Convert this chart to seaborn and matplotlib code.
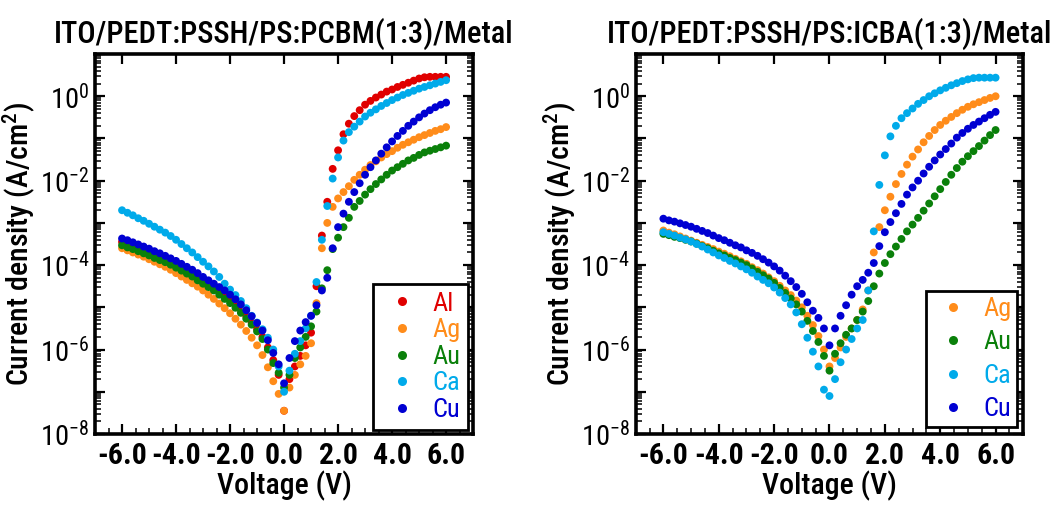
import numpy as np
import pandas as pd
import matplotlib
matplotlib.use("Agg")
import matplotlib.pyplot as plt
import seaborn as sns
from matplotlib import font_manager as fm
from matplotlib.ticker import LogLocator, FuncFormatter, MultipleLocator, NullFormatter
from matplotlib.lines import Line2D

# ---------------- data (log10 of current density, A/cm^2) ----------------
voltage = np.linspace(-6.0, 6.0, 61)  # sweep, 0.2 V steps

pcbm_al = [-3.45, -3.50, -3.54, -3.59, -3.64, -3.69, -3.74, -3.79, -3.84, -3.90,
           -3.96, -4.03, -4.10, -4.17, -4.25, -4.34, -4.43, -4.52, -4.61, -4.71,
           -4.82, -4.93, -5.06, -5.21, -5.36, -5.52, -5.70, -5.95, -6.25, -6.60,
           -7.45,
           -6.70, -6.40, -6.15, -5.90, -5.60, -4.50, -3.30, -2.50, -1.72, -1.28,
           -0.90, -0.65, -0.47, -0.33, -0.20, -0.11, -0.03, 0.04, 0.11, 0.16,
           0.22, 0.27, 0.32, 0.37, 0.42, 0.45, 0.46, 0.46, 0.46, 0.46]
pcbm_ag = [-3.60, -3.65, -3.70, -3.75, -3.80, -3.86, -3.92, -3.98, -4.04, -4.11,
           -4.19, -4.27, -4.35, -4.43, -4.51, -4.60, -4.70, -4.80, -4.91, -5.02,
           -5.14, -5.27, -5.41, -5.56, -5.72, -5.90, -6.13, -6.42, -6.75, -7.05,
           -7.45,
           -6.90, -6.60, -6.35, -6.15, -5.85, -4.90, -3.60, -3.00, -2.62, -2.42,
           -2.27, -2.13, -1.98, -1.86, -1.74, -1.63, -1.54, -1.45, -1.37, -1.30,
           -1.22, -1.15, -1.09, -1.03, -0.97, -0.92, -0.87, -0.82, -0.78, -0.73]
pcbm_au = [-3.53, -3.58, -3.62, -3.67, -3.72, -3.77, -3.83, -3.88, -3.93, -3.99,
           -4.06, -4.13, -4.20, -4.27, -4.36, -4.44, -4.52, -4.60, -4.70, -4.80,
           -4.90, -5.01, -5.13, -5.27, -5.41, -5.57, -5.75, -6.00, -6.32, -6.55,
           -6.90,
           -6.60, -6.20, -5.95, -5.70, -5.45, -5.10, -4.55, -4.12, -3.62, -3.35,
           -3.10, -2.88, -2.62, -2.48, -2.33, -2.20, -2.08, -1.97, -1.86, -1.76,
           -1.68, -1.60, -1.52, -1.46, -1.39, -1.33, -1.29, -1.25, -1.21, -1.17]
pcbm_ca = [-2.70, -2.76, -2.82, -2.89, -2.95, -3.02, -3.09, -3.16, -3.23, -3.31,
           -3.40, -3.50, -3.60, -3.70, -3.81, -3.92, -4.03, -4.15, -4.28, -4.44,
           -4.58, -4.71, -4.85, -5.02, -5.20, -5.36, -5.52, -5.72, -6.00, -6.40,
           -7.00,
           -6.50, -6.10, -5.80, -5.50, -5.20, -4.40, -3.40, -2.60, -1.95, -1.45,
           -1.05, -0.85, -0.72, -0.60, -0.48, -0.39, -0.31, -0.23, -0.16, -0.09,
           -0.03, 0.03, 0.08, 0.13, 0.18, 0.22, 0.26, 0.30, 0.34, 0.38]
pcbm_cu = [-3.37, -3.41, -3.46, -3.51, -3.56, -3.61, -3.67, -3.72, -3.78, -3.84,
           -3.90, -3.97, -4.04, -4.11, -4.19, -4.28, -4.36, -4.44, -4.52, -4.60,
           -4.70, -4.81, -4.93, -5.07, -5.21, -5.37, -5.55, -5.78, -6.08, -6.35,
           -6.80,
           -6.20, -5.80, -5.55, -5.35, -5.20, -4.95, -4.60, -4.30, -3.60, -3.10,
           -2.78, -2.50, -2.27, -2.06, -1.86, -1.68, -1.52, -1.36, -1.21, -1.07,
           -0.94, -0.82, -0.70, -0.60, -0.50, -0.41, -0.33, -0.26, -0.20, -0.15]

icba_ag = [-3.18, -3.23, -3.27, -3.32, -3.37, -3.42, -3.47, -3.52, -3.57, -3.62,
           -3.68, -3.73, -3.79, -3.85, -3.91, -3.97, -4.05, -4.12, -4.20, -4.29,
           -4.38, -4.49, -4.60, -4.71, -4.84, -5.00, -5.20, -5.42, -5.68, -6.00,
           -6.40,
           -6.20, -5.95, -5.70, -5.50, -5.30, -5.05, -4.60, -3.70, -3.10, -2.70,
           -2.38, -2.08, -1.84, -1.62, -1.43, -1.26, -1.09, -0.94, -0.80, -0.68,
           -0.58, -0.49, -0.40, -0.32, -0.25, -0.19, -0.14, -0.09, -0.04, 0.00]
icba_au = [-3.26, -3.29, -3.33, -3.36, -3.40, -3.44, -3.49, -3.55, -3.60, -3.66,
           -3.72, -3.77, -3.83, -3.88, -3.94, -4.00, -4.08, -4.16, -4.24, -4.32,
           -4.42, -4.54, -4.66, -4.79, -4.93, -5.10, -5.32, -5.56, -5.82, -6.15,
           -6.50,
           -6.10, -5.85, -5.65, -5.50, -5.30, -5.10, -4.85, -4.50, -4.20, -3.95,
           -3.74, -3.56, -3.38, -3.20, -3.04, -2.88, -2.71, -2.54, -2.37, -2.20,
           -2.03, -1.86, -1.70, -1.55, -1.42, -1.30, -1.18, -1.05, -0.92, -0.80]
icba_ca = [-3.22, -3.26, -3.30, -3.35, -3.39, -3.44, -3.50, -3.56, -3.63, -3.70,
           -3.77, -3.83, -3.90, -3.96, -4.03, -4.10, -4.18, -4.27, -4.35, -4.43,
           -4.53, -4.65, -4.78, -4.93, -5.12, -5.40, -5.72, -6.05, -6.40, -6.95,
           -7.10,
           -6.70, -6.30, -6.00, -5.75, -5.50, -5.30, -4.60, -3.20, -2.10, -1.40,
           -0.95, -0.70, -0.52, -0.40, -0.29, -0.18, -0.09, 0.00, 0.07, 0.14,
           0.20, 0.26, 0.31, 0.36, 0.40, 0.43, 0.44, 0.44, 0.44, 0.44]
icba_cu = [-2.90, -2.94, -2.97, -3.01, -3.05, -3.09, -3.14, -3.19, -3.24, -3.30,
           -3.36, -3.41, -3.47, -3.53, -3.58, -3.65, -3.71, -3.78, -3.86, -3.94,
           -4.03, -4.13, -4.25, -4.38, -4.52, -4.68, -4.88, -5.08, -5.25, -5.50,
           -5.90,
           -5.50, -5.20, -4.95, -4.70, -4.50, -4.35, -4.18, -3.95, -3.55, -3.22,
           -2.98, -2.77, -2.55, -2.33, -2.16, -2.00, -1.83, -1.67, -1.52, -1.38,
           -1.25, -1.12, -0.98, -0.87, -0.77, -0.68, -0.60, -0.52, -0.44, -0.37]

titles = ["ITO/PEDT:PSSH/PS:PCBM(1:3)/Metal", "ITO/PEDT:PSSH/PS:ICBA(1:3)/Metal"]
left_metals = ["Al", "Ag", "Au", "Ca", "Cu"]
right_metals = ["Ag", "Au", "Ca", "Cu"]
left_series = [pcbm_al, pcbm_ag, pcbm_au, pcbm_ca, pcbm_cu]
right_series = [icba_ag, icba_au, icba_ca, icba_cu]
xtick_values = [-6.0, -4.0, -2.0, 0.0, 2.0, 4.0, 6.0]

colors = {"Al": "#e00000", "Ag": "#ff8c1a", "Au": "#0a800a",
          "Ca": "#00aaea", "Cu": "#0000d2"}

# ---------------- style ----------------
sns.set_theme(style="ticks")
fam = "Roboto Condensed"
try:
    fm.findfont(fam, fallback_to_default=False)
except Exception:
    fam = "DejaVu Sans"
plt.rcParams["font.family"] = [fam, "DejaVu Sans"]
plt.rcParams["mathtext.fontset"] = "custom"
plt.rcParams["mathtext.rm"] = fam
plt.rcParams["mathtext.it"] = fam
plt.rcParams["mathtext.bf"] = fam + ":bold"
plt.rcParams["axes.unicode_minus"] = False
for key in ["text.color", "axes.labelcolor", "xtick.color", "ytick.color",
            "xtick.labelcolor", "ytick.labelcolor", "axes.edgecolor"]:
    plt.rcParams[key] = "black"


def make_df(metals, series):
    frames = []
    for m, s in zip(metals, series):
        frames.append(pd.DataFrame({"V": voltage, "J": 10.0 ** np.asarray(s), "Metal": m}))
    return pd.concat(frames, ignore_index=True)


def yfmt(v, pos):
    e = int(round(np.log10(v)))
    if e % 2 == 0 and -8 <= e <= 0:
        return r"$\mathregular{10^{%d}}$" % e
    return ""


fig = plt.figure(figsize=(10.56, 5.05), dpi=100)
axes_pos = [[0.090, 0.1406, 0.358, 0.7524], [0.602, 0.1406, 0.367, 0.7524]]
legend_anchor = [(0.987, 0.0105), (0.984, 0.018)]
legend_spacing = [0.1, 0.36]
legend_pad = [0.3, 0.22]

for k, (metals, series) in enumerate([(left_metals, left_series), (right_metals, right_series)]):
    ax = fig.add_axes(axes_pos[k])
    df = make_df(metals, series)
    sns.scatterplot(data=df, x="V", y="J", hue="Metal", hue_order=metals,
                    palette=colors, s=32, linewidth=0, alpha=1.0,
                    legend=False, ax=ax, zorder=3)
    ax.set_yscale("log")
    ax.set_ylim(1e-8, 1e1)
    ax.set_xlim(-7.0, 7.0)
    ax.yaxis.set_major_locator(LogLocator(base=10, numticks=20))
    ax.yaxis.set_minor_locator(LogLocator(base=10, subs=np.arange(2, 10), numticks=20))
    ax.yaxis.set_major_formatter(FuncFormatter(yfmt))
    ax.yaxis.set_minor_formatter(NullFormatter())
    ax.set_xticks(xtick_values)
    ax.set_xticklabels(["%.1f" % v for v in xtick_values])
    ax.xaxis.set_minor_locator(MultipleLocator(0.5))
    for sp in ax.spines.values():
        sp.set_linewidth(2.6)
        sp.set_color("black")
    ax.tick_params(which="both", direction="in", top=True, right=True, color="black")
    ax.tick_params(which="major", length=7, width=1.6)
    ax.tick_params(which="minor", length=4, width=1.1)
    ax.tick_params(axis="x", which="minor", top=False)
    ax.tick_params(axis="x", which="major", labelsize=21.5, pad=6)
    ax.tick_params(axis="y", which="major", labelsize=20.5, pad=4)
    for lab in ax.get_xticklabels():
        lab.set_fontweight("bold")
    ax.set_xlabel("Voltage (V)", fontsize=21.5, labelpad=0, fontweight="medium")
    ax.set_ylabel(r"Current density (A/cm$\mathregular{^2}$)", fontsize=21.5,
                  labelpad=2, fontweight="medium")
    ax.set_title(titles[k], fontsize=22, pad=8, fontweight="medium")

    handles = [Line2D([0], [0], marker="o", linestyle="none", markersize=6.5,
                      markerfacecolor=colors[m], markeredgewidth=0) for m in metals]
    leg = ax.legend(handles, metals, loc="lower right", bbox_to_anchor=legend_anchor[k],
                    borderaxespad=0, fontsize=19, frameon=True, fancybox=False,
                    framealpha=1, edgecolor="black", handlelength=1.6,
                    handletextpad=0.35, labelspacing=legend_spacing[k],
                    borderpad=legend_pad[k], labelcolor=[colors[m] for m in metals])
    leg.get_frame().set_linewidth(2.0)
    leg.set_zorder(5)

fig.savefig("out.png", dpi=100)
